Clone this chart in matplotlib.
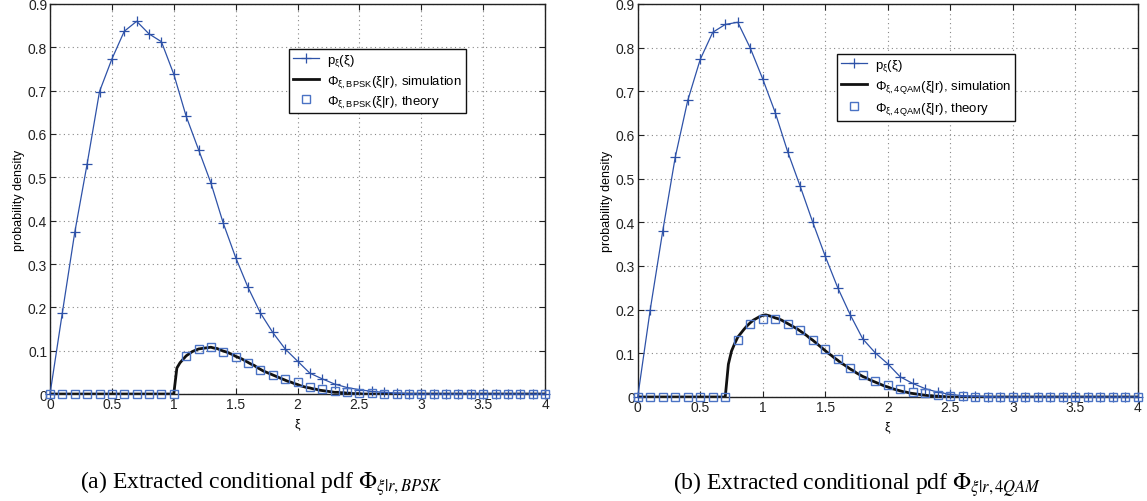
import matplotlib
matplotlib.use('Agg')
import matplotlib.pyplot as plt
import numpy as np

plt.rcParams['font.family'] = ['Liberation Sans', 'DejaVu Sans']
plt.rcParams['mathtext.fontset'] = 'custom'
plt.rcParams['mathtext.rm'] = 'Liberation Sans'
plt.rcParams['mathtext.it'] = 'Liberation Sans:italic'

# grid of xi used by p_xi and the theory curves (0 .. 4, step 0.1)
xi = np.round(np.arange(0, 4.01, 0.1), 2)

p_bpsk = [0, 0.188, 0.373, 0.531, 0.698, 0.773, 0.837, 0.860, 0.831, 0.813,
          0.738, 0.641, 0.564, 0.487, 0.394, 0.315, 0.246, 0.187, 0.142, 0.104,
          0.076, 0.048, 0.035, 0.023, 0.015, 0.010, 0.006, 0.004, 0.002, 0.001,
          0, 0, 0, 0, 0, 0, 0, 0, 0, 0, 0]
theory_bpsk = [0, 0, 0, 0, 0, 0, 0, 0, 0, 0,
               0, 0.087, 0.104, 0.108, 0.098, 0.086, 0.071, 0.056, 0.045, 0.035,
               0.027, 0.017, 0.012, 0.008, 0.005, 0.003, 0.002, 0.001, 0, 0,
               0, 0, 0, 0, 0, 0, 0, 0, 0, 0, 0]

p_4qam = [0, 0.200, 0.380, 0.549, 0.679, 0.773, 0.835, 0.853, 0.858, 0.799,
          0.728, 0.651, 0.561, 0.482, 0.400, 0.322, 0.250, 0.188, 0.133, 0.101,
          0.076, 0.046, 0.031, 0.019, 0.011, 0.006, 0.003, 0.002, 0.001, 0,
          0, 0, 0, 0, 0, 0, 0, 0, 0, 0, 0]
theory_4qam = [0, 0, 0, 0, 0, 0, 0, 0, 0.131, 0.168,
               0.179, 0.179, 0.168, 0.153, 0.131, 0.111, 0.088, 0.067, 0.050, 0.037,
               0.028, 0.018, 0.011, 0.008, 0.005, 0.003, 0.002, 0.001, 0, 0,
               0, 0, 0, 0, 0, 0, 0, 0, 0, 0, 0]

# simulated (histogram) curves, step 0.025
sim_x_bpsk = np.round(np.arange(1.0, 2.526, 0.025), 3)
sim_bpsk = [0.000, 0.060, 0.072, 0.080, 0.088, 0.093, 0.098, 0.101, 0.104, 0.105,
            0.106, 0.107, 0.108, 0.106, 0.105, 0.102, 0.099, 0.097, 0.094, 0.091,
            0.087, 0.084, 0.081, 0.077, 0.073, 0.069, 0.066, 0.061, 0.057, 0.053,
            0.050, 0.047, 0.044, 0.041, 0.038, 0.035, 0.032, 0.029, 0.027, 0.024,
            0.022, 0.019, 0.017, 0.015, 0.014, 0.012, 0.011, 0.009, 0.008, 0.007,
            0.006, 0.005, 0.004, 0.004, 0.003, 0.003, 0.002, 0.002, 0.001, 0.001,
            0.001, 0.000]

sim_x_4qam = np.round(np.arange(0.7, 2.476, 0.025), 3)
sim_4qam = [0.000, 0.075, 0.105, 0.122, 0.137, 0.146, 0.155, 0.163, 0.170, 0.176,
            0.180, 0.184, 0.187, 0.188, 0.186, 0.184, 0.181, 0.179, 0.176, 0.172,
            0.168, 0.164, 0.160, 0.156, 0.151, 0.146, 0.141, 0.135, 0.130, 0.124,
            0.118, 0.112, 0.106, 0.100, 0.095, 0.089, 0.084, 0.078, 0.074, 0.069,
            0.064, 0.060, 0.055, 0.051, 0.047, 0.044, 0.040, 0.037, 0.034, 0.031,
            0.028, 0.025, 0.023, 0.020, 0.018, 0.016, 0.014, 0.012, 0.011, 0.009,
            0.008, 0.007, 0.006, 0.005, 0.004, 0.003, 0.003, 0.002, 0.002, 0.001,
            0.001, 0.000]

blue = '#2e52a8'
sq_blue = '#4a72c4'


def draw_panel(ax, p, sim_x, sim, theory, mod, legend_anchor):
    ax.plot(xi, p, color=blue, lw=0.9, marker='+', ms=6.5, mew=0.9,
            label='p$_\\mathregular{ξ}$(ξ)', clip_on=False, zorder=3)
    sx = np.concatenate([[0.0], sim_x, [4.0]])
    sy = np.concatenate([[0.0], sim, [0.0]])
    ax.plot(sx, sy, color='#111111', lw=2.0,
            label='Φ$_\\mathregular{ξ,%s}$(ξ|r), simulation' % mod, zorder=2)
    ax.plot(xi, theory, ls='none', marker='s', ms=5.5, mfc='none', mec=sq_blue,
            mew=1.0, label='Φ$_\\mathregular{ξ,%s}$(ξ|r), theory' % mod,
            clip_on=False, zorder=4)
    ax.set_xlim(0, 4)
    ax.set_ylim(0, 0.9)
    ax.set_xticks(np.arange(0, 4.01, 0.5))
    ax.set_xticklabels(['0', '0.5', '1', '1.5', '2', '2.5', '3', '3.5', '4'])
    ax.set_yticks(np.arange(0, 0.91, 0.1))
    ax.set_yticklabels(['0', '0.1', '0.2', '0.3', '0.4', '0.5', '0.6', '0.7', '0.8', '0.9'])
    ax.grid(True, ls=(0, (1, 3)), color='#888888', lw=0.8)
    ax.tick_params(direction='in', labelsize=10, length=4, top=True, right=True,
                   colors='#222222', pad=2)
    ax.set_xlabel('ξ', fontsize=9, labelpad=5)
    ax.set_ylabel('probability density', fontsize=9, labelpad=2)
    for s in ax.spines.values():
        s.set_linewidth(1.0)
        s.set_color('#222222')
    leg = ax.legend(loc='upper left', bbox_to_anchor=legend_anchor, fontsize=9.5,
                    fancybox=False, framealpha=1, edgecolor='#111111',
                    borderpad=0.3, labelspacing=0.35, handlelength=2.0,
                    handletextpad=0.6, borderaxespad=0)
    leg.get_frame().set_linewidth(1.0)


fig = plt.figure(figsize=(11.47, 5.02), dpi=100)
ax1 = fig.add_axes([0.0436, 0.2131, 0.4316, 0.777])
ax2 = fig.add_axes([0.556, 0.2072, 0.436, 0.783])

draw_panel(ax1, p_bpsk, sim_x_bpsk, sim_bpsk, theory_bpsk, 'BPSK', (0.483, 0.885))
draw_panel(ax2, p_4qam, sim_x_4qam, sim_4qam, theory_4qam, '4QAM', (0.398, 0.873))

fig.text(0.0697, 0.026, r'(a) Extracted conditional pdf $\Phi_{\xi|r,BPSK}$',
         ha='left', va='baseline', fontsize=17, family='Liberation Serif',
         math_fontfamily='stix')
fig.text(0.5867, 0.024, r'(b) Extracted conditional pdf $\Phi_{\xi|r,4QAM}$',
         ha='left', va='baseline', fontsize=17, family='Liberation Serif',
         math_fontfamily='stix')

fig.savefig('out.png', dpi=100)
